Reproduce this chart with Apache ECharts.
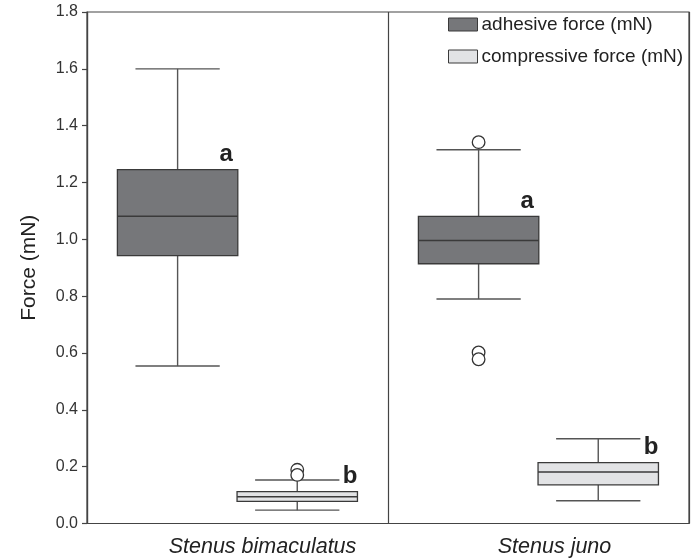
<!DOCTYPE html>
<html>
<head>
<meta charset="utf-8">
<title>Adhesive vs compressive force</title>
<script src="https://cdn.jsdelivr.net/npm/echarts@6/dist/echarts.min.js"></script>
<style>
  html, body { margin: 0; padding: 0; background: #fff; }
  #chart { width: 700px; height: 560px; }
</style>
</head>
<body>
<div id="chart"></div>
<script>
// Species on the x axis
const categories = ['Stenus bimaculatus', 'Stenus juno'];

// Box statistics per species: [lower whisker, Q1, median, Q3, upper whisker]
const adhesiveStats = [
  [0.554, 0.943, 1.081, 1.245, 1.600],
  [0.790, 0.914, 0.996, 1.081, 1.315]
];
const compressiveStats = [
  [0.047, 0.078, 0.094, 0.112, 0.153],
  [0.080, 0.136, 0.181, 0.214, 0.298]
];

// Outliers: [species index, force]
const adhesiveOutliers = [[1, 1.342], [1, 0.602], [1, 0.578]];
const compressiveOutliers = [[0, 0.189], [0, 0.171]];

// Significance letters drawn above each box
const adhesiveLetters = ['a', 'a'];
const compressiveLetters = ['b', 'b'];

// Y axis ticks
const yTicks = { min: 0, max: 1.8, step: 0.2 };

const seriesNames = ['adhesive force (mN)', 'compressive force (mN)'];
const darkFill = '#76777a';
const lightFill = '#e2e3e5';
const edge = '#3a3a3a';
const whisker = '#555';

function boxRenderer(shift, fill, letters, letterInset) {
  return function (params, api) {
    const i = api.value(0);
    const band = api.size([1, 0])[0];
    const cx = api.coord([i, 0])[0] + shift * band;
    const half = band * 0.2;
    const cap = band * 0.14;
    const y = (d) => api.coord([i, api.value(d)])[1];
    const yLo = y(1), yQ1 = y(2), yMed = y(3), yQ3 = y(4), yHi = y(5);
    const lineStyle = { stroke: whisker, lineWidth: 1.4 };
    return {
      type: 'group',
      children: [
        { type: 'line', shape: { x1: cx, y1: yHi, x2: cx, y2: yQ3 }, style: lineStyle },
        { type: 'line', shape: { x1: cx, y1: yQ1, x2: cx, y2: yLo }, style: lineStyle },
        { type: 'line', shape: { x1: cx - cap, y1: yHi, x2: cx + cap, y2: yHi }, style: lineStyle },
        { type: 'line', shape: { x1: cx - cap, y1: yLo, x2: cx + cap, y2: yLo }, style: lineStyle },
        { type: 'rect', shape: { x: cx - half, y: yQ3, width: 2 * half, height: yQ1 - yQ3 },
          style: { fill: fill, stroke: edge, lineWidth: 1.3 } },
        { type: 'line', shape: { x1: cx - half, y1: yMed, x2: cx + half, y2: yMed },
          style: { stroke: edge, lineWidth: 1.5 } },
        { type: 'text', style: {
            text: letters[params.dataIndex],
            x: cx + half - letterInset, y: yQ3 - 3,
            align: 'right', verticalAlign: 'bottom',
            font: 'bold 24px "Liberation Sans", Arial, sans-serif', fill: '#222' } }
      ]
    };
  };
}

function outlierRenderer(shift) {
  return function (params, api) {
    const i = api.value(0);
    const band = api.size([1, 0])[0];
    const p = api.coord([i, api.value(1)]);
    return {
      type: 'circle',
      shape: { cx: p[0] + shift * band, cy: p[1], r: 6.3 },
      style: { fill: '#fff', stroke: '#333', lineWidth: 1.3 }
    };
  };
}

const chart = echarts.init(document.getElementById('chart'), null, { renderer: 'canvas' });

chart.setOption({
  backgroundColor: '#fff',
  animation: false,
  textStyle: { fontFamily: '"Liberation Sans", Arial, sans-serif' },
  grid: {
    left: 87, right: 11, top: 12, bottom: 36.5,
    show: true, borderColor: '#444', borderWidth: 1.2,
    outerBoundsMode: 'none'
  },
  legend: {
    orient: 'vertical',
    left: 448, top: 14.5, padding: 0,
    itemWidth: 29, itemHeight: 13, itemGap: 12,
    icon: 'rect',
    textStyle: { fontSize: 19, color: '#222', lineHeight: 20, padding: [0, 0, 0, -1] },
    data: [
      { name: seriesNames[0], itemStyle: { color: darkFill, borderColor: edge, borderWidth: 1 } },
      { name: seriesNames[1], itemStyle: { color: lightFill, borderColor: edge, borderWidth: 1 } }
    ]
  },
  xAxis: {
    type: 'category',
    data: categories,
    axisLine: { lineStyle: { color: '#444', width: 1.2 } },
    axisTick: { alignWithLabel: true, length: 5, lineStyle: { color: '#444', width: 1.2 } },
    splitLine: { show: true, lineStyle: { color: '#444', width: 1.2 } },
    axisLabel: {
      margin: 13,
      color: '#222',
      formatter: (v, idx) => '{s' + idx + '|' + v + '}',
      rich: {
        s0: { fontSize: 21.5, fontStyle: 'italic', color: '#222', padding: [0, 0, 0, 50] },
        s1: { fontSize: 21.5, fontStyle: 'italic', color: '#222', padding: [0, 0, 0, 32] }
      }
    }
  },
  yAxis: {
    type: 'value',
    min: yTicks.min, max: yTicks.max, interval: yTicks.step,
    name: 'Force (mN)',
    nameLocation: 'middle',
    nameGap: 47,
    nameTextStyle: { fontSize: 21, color: '#222' },
    axisLine: { show: true, lineStyle: { color: '#444', width: 1.2 } },
    axisTick: { show: true, length: 5, lineStyle: { color: '#444', width: 1.2 } },
    splitLine: { show: false },
    axisLabel: {
      margin: 9, fontSize: 16, color: '#333',
      formatter: (v) => v.toFixed(1)
    }
  },
  series: [
    {
      name: seriesNames[0],
      type: 'custom',
      itemStyle: { color: darkFill },
      renderItem: boxRenderer(-0.199, darkFill, adhesiveLetters, 5),
      encode: { x: 0, y: [1, 2, 3, 4, 5] },
      data: adhesiveStats.map((s, i) => [i].concat(s)),
      z: 2
    },
    {
      name: seriesNames[1],
      type: 'custom',
      itemStyle: { color: lightFill },
      renderItem: boxRenderer(0.1985, lightFill, compressiveLetters, 0),
      encode: { x: 0, y: [1, 2, 3, 4, 5] },
      data: compressiveStats.map((s, i) => [i].concat(s)),
      z: 2
    },
    {
      name: seriesNames[0],
      type: 'custom',
      renderItem: outlierRenderer(-0.199),
      encode: { x: 0, y: 1 },
      data: adhesiveOutliers,
      z: 3
    },
    {
      name: seriesNames[1],
      type: 'custom',
      renderItem: outlierRenderer(0.1985),
      encode: { x: 0, y: 1 },
      data: compressiveOutliers,
      z: 3
    }
  ]
});
</script>
</body>
</html>
